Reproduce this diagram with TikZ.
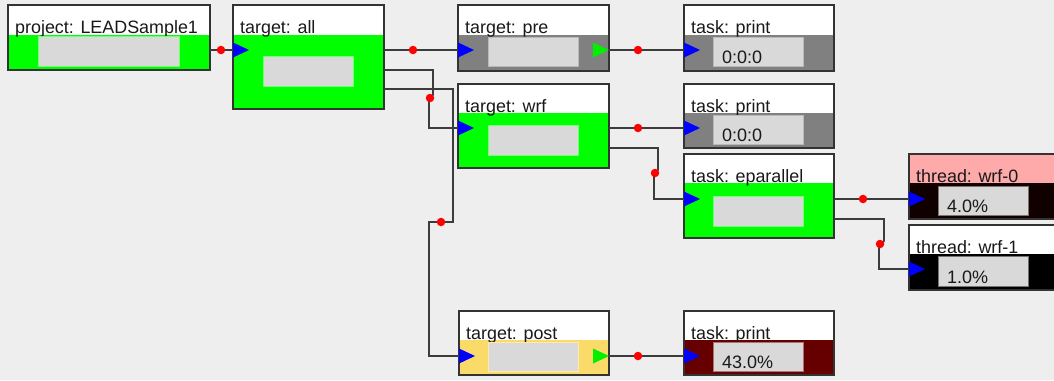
\documentclass[tikz,border=0pt]{standalone}
\usepackage{fontspec}
\setmainfont{Liberation Sans}
\usetikzlibrary{calc,fit}

\definecolor{canvas}{RGB}{238,238,238}
\definecolor{frame}{RGB}{51,51,51}
\definecolor{wire}{RGB}{60,60,60}
\definecolor{okgreen}{RGB}{0,255,0}
\definecolor{idlegrey}{RGB}{128,128,128}
\definecolor{waityellow}{RGB}{250,218,105}
\definecolor{hotred}{RGB}{102,0,0}
\definecolor{nearblack}{RGB}{16,0,0}
\definecolor{pinkhead}{RGB}{255,170,170}
\definecolor{lightbar}{RGB}{217,217,217}
\definecolor{portblue}{RGB}{0,0,255}
\definecolor{portgreen}{RGB}{0,240,0}
\definecolor{dotred}{RGB}{255,0,0}

\tikzset{
  frame/.style={draw=frame, line width=2pt, inner sep=0pt, outer sep=0pt},
  bar/.style={fill=lightbar, line width=1pt, inner sep=0pt, outer sep=0pt},
  headtxt/.style={anchor=base west, inner sep=0pt, text=black!90,
    font=\fontsize{17.9}{21}\selectfont},
  valtxt/.style={anchor=base west, inner sep=0pt, text=black!90,
    font=\fontsize{18}{21}\selectfont},
  wire/.style={draw=wire, line width=1.6pt},
  knot/.style={circle, fill=dotred, inner sep=0pt, minimum size=8.5pt},
}

% #1 name, #2 top-left, #3 bottom-right, #4 y of header bottom, #5 header colour, #6 body colour, #7 title
\newcommand\panel[7]{%
  \path (#2) coordinate (#1-tl) (#3) coordinate (#1-br);
  \fill[#6] (#1-tl) rectangle (#1-br);
  \fill[#5] (#1-tl) rectangle (#1-br |- 0,#4);
  \node[frame, fit=(#1-tl)(#1-br)] (#1) {};
  \node[headtxt] (#1-title) at ($(#1.north west)+(7,28)$) {#7};
}
% #1 name, #2 top-left, #3 bottom-right, #4 surrounding body colour
\newcommand\readout[4]{%
  \path (#2) coordinate (#1-a) (#3) coordinate (#1-b);
  \node[bar, draw=white!45!#4, fit=(#1-a)(#1-b)] (#1) {};
}
% input triangle on a left edge, output triangle on a right edge
\newcommand\inport[1]{\fill[portblue] ($(#1)+(0,-7.5)$) -- ($(#1)+(16,0)$) -- ($(#1)+(0,7.5)$) -- cycle;}
\newcommand\outport[1]{\fill[portgreen] ($(#1)+(-16,-7.5)$) -- (#1) -- ($(#1)+(-16,7.5)$) -- cycle;}

\begin{document}
\begin{tikzpicture}[x=1pt,y=-1pt]
\clip (0,0) rectangle (1054,380);
\fill[canvas] (0,0) rectangle (1054,380);

% ---------- blocks ----------
\panel{prj}{8,5}{210,70}{35}{white}{okgreen}{project: LEADSample1}
\readout{prjbar}{38,36}{179,66}{okgreen}

\panel{all}{233,5}{384,109}{35}{white}{okgreen}{target: all}
\readout{allbar}{263,56}{353,86}{okgreen}

\panel{pre}{458,5}{609,71}{35}{white}{idlegrey}{target: pre}
\readout{prebar}{488,37}{578,66}{idlegrey}

\panel{pa}{684,5}{834,71}{35}{white}{idlegrey}{task: print}
\readout{pabar}{713,37}{803,66}{idlegrey}
\node[valtxt] at ($(pabar.south west)+(9,-3)$) {0:0:0};

\panel{wrf}{458,84}{609,168}{113}{white}{okgreen}{target: wrf}
\readout{wrfbar}{488,125}{578,155}{okgreen}

\panel{pb}{684,84}{834,148}{113}{white}{idlegrey}{task: print}
\readout{pbbar}{713,115}{803,144}{idlegrey}
\node[valtxt] at ($(pbbar.south west)+(9,-3)$) {0:0:0};

\panel{ep}{684,154}{834,238}{183}{white}{okgreen}{task: eparallel}
\readout{epbar}{713,196}{803,226}{okgreen}

\panel{tz}{909,154}{1062,219}{183}{pinkhead}{nearblack}{thread: wrf-0}
\readout{tzbar}{938,186}{1028,215}{nearblack}
\node[valtxt] at ($(tzbar.south west)+(9,-3)$) {4.0\%};

\panel{to}{909,225}{1062,290}{254}{white}{black}{thread: wrf-1}
\readout{tobar}{938,256}{1028,286}{black}
\node[valtxt] at ($(tobar.south west)+(9,-3)$) {1.0\%};

\panel{post}{459,311}{609,375}{340}{white}{waityellow}{target: post}
\readout{postbar}{488,342}{578,371}{waityellow}

\panel{pc}{684,311}{834,375}{340}{white}{hotred}{task: print}
\readout{pcbar}{713,342}{803,371}{hotred}
\node[valtxt] at ($(pcbar.south west)+(9,-3)$) {43.0\%};

% ---------- ports ----------
\coordinate (prj-out) at ([yshift=-45pt]prj.north east);
\coordinate (all-in)  at ([yshift=-45pt]all.north west);
\coordinate (all-o1)  at ([yshift=-45pt]all.north east);
\coordinate (all-o2)  at ([yshift=-65pt]all.north east);
\coordinate (all-o3)  at ([yshift=-84pt]all.north east);
\coordinate (pre-in)  at ([yshift=-45pt]pre.north west);
\coordinate (pre-out) at ([yshift=-45pt]pre.north east);
\coordinate (pa-in)   at ([yshift=-45pt]pa.north west);
\coordinate (wrf-in)  at ([yshift=-44pt]wrf.north west);
\coordinate (wrf-o1)  at ([yshift=-44pt]wrf.north east);
\coordinate (wrf-o2)  at ([yshift=-64pt]wrf.north east);
\coordinate (pb-in)   at ([yshift=-44pt]pb.north west);
\coordinate (ep-in)   at ([yshift=-45pt]ep.north west);
\coordinate (ep-o1)   at ([yshift=-45pt]ep.north east);
\coordinate (ep-o2)   at ([yshift=-65pt]ep.north east);
\coordinate (tz-in)   at ([yshift=-45pt]tz.north west);
\coordinate (to-in)   at ([yshift=-44pt]to.north west);
\coordinate (post-in) at ([yshift=-45pt]post.north west);
\coordinate (post-out)at ([yshift=-45pt]post.north east);
\coordinate (pc-in)   at ([yshift=-45pt]pc.north west);

% ---------- bend points ----------
\coordinate (b1) at (221,50);
\coordinate (b2) at (413,50);
\coordinate (b3) at (430,98);
\coordinate (b4) at (441,222);
\coordinate (b5) at (638,50);
\coordinate (b6) at (638,128);
\coordinate (b7) at (655,173);
\coordinate (b8) at (863,199);
\coordinate (b9) at (880,244);
\coordinate (b10) at (638,356);

% ---------- connectors ----------
\draw[wire] (prj-out) -- (all-in);
\draw[wire] (all-o1) -- (pre-in);
\draw[wire] (all-o2) -| ($(b3)+(3,-3)$) -- ($(b3)+(-1,3)$) |- (wrf-in);
\draw[wire] (all-o3) -| ($(b4)+(12,0)$) -- ($(b4)+(-12,0)$) |- (post-in);
\draw[wire] (pre-out) -- (pa-in);
\draw[wire] (wrf-o1) -- (pb-in);
\draw[wire] (wrf-o2) -| ($(b7)+(3,-3)$) -- ($(b7)+(-1,3)$) |- (ep-in);
\draw[wire] (ep-o1) -- (tz-in);
\draw[wire] (ep-o2) -| ($(b9)+(4,-3)$) -- ($(b9)+(-1,3)$) |- (to-in);
\draw[wire] (post-out) -- (pc-in);

\foreach \b in {b1,b2,b3,b4,b5,b6,b7,b8,b9,b10}
  \node[knot] at (\b) {};

% ---------- port markers ----------
\inport{all-in}
\inport{pre-in}
\inport{pa-in}
\inport{wrf-in}
\inport{pb-in}
\inport{ep-in}
\inport{tz-in}
\inport{to-in}
\inport{post-in}
\inport{pc-in}
\outport{pre-out}
\outport{post-out}
\end{tikzpicture}
\end{document}
